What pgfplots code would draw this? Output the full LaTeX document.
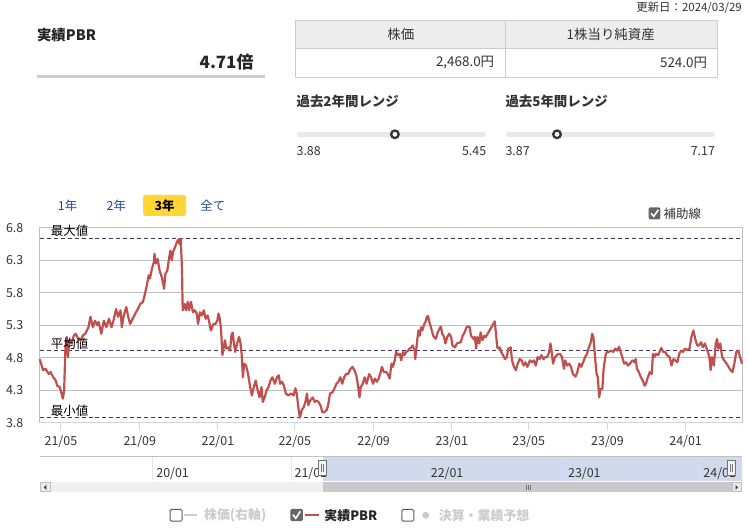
\documentclass[border=0pt]{standalone}
\usepackage{fontspec}
\setmainfont{Noto Sans CJK JP}
\usepackage{pgfplots}
\usepackage{pgfplotstable}
\pgfplotsset{compat=1.18}
\definecolor{pbr}{RGB}{192,80,77}
\definecolor{dashc}{RGB}{72,52,100}
\definecolor{gridc}{RGB}{192,192,192}
\definecolor{tickc}{RGB}{204,214,235}
\definecolor{tabblue}{RGB}{30,70,160}
\definecolor{tabyel}{RGB}{255,214,51}
\definecolor{txt}{RGB}{51,51,51}
\definecolor{lgray}{RGB}{204,204,204}
\definecolor{navmask}{RGB}{209,218,237}
\newcommand{\fs}[1]{\fontsize{#1}{#1}\selectfont}

\pgfplotstableread{
d v
0 4.78
5 4.61
9 4.63
14 4.55
17 4.58
21 4.50
25 4.45
27 4.37
31 4.35
34 4.25
36 4.17
38 4.30
40 4.96
42 5.12
44 4.81
46 5.07
50 5.02
53 5.14
56 5.17
60 5.09
64 5.07
67 5.14
71 5.17
76 5.27
79 5.43
83 5.27
86 5.37
90 5.30
92 5.35
96 5.17
100 5.37
104 5.27
108 5.40
112 5.27
115 5.37
119 5.55
122 5.43
126 5.53
128 5.27
131 5.45
135 5.58
138 5.43
141 5.32
145 5.40
149 5.48
153 5.55
157 5.63
161 5.66
164 5.78
167 5.91
170 6.07
172 6.02
175 6.17
178 6.27
179 6.40
181 6.25
184 6.32
187 6.14
191 6.02
194 5.86
196 6.09
199 6.14
202 6.35
204 6.45
206 6.30
208 6.43
211 6.50
214 6.58
216 6.62
218 6.55
220 6.63
222 6.14
223 5.53
226 5.63
228 5.53
231 5.66
233 5.53
236 5.66
239 5.50
242 5.53
245 5.48
247 5.32
250 5.50
253 5.45
256 5.53
259 5.40
262 5.45
264 5.37
267 5.22
271 5.32
274 5.32
277 5.37
279 5.48
281 5.40
283 5.22
285 4.84
287 4.96
289 5.07
291 4.94
294 4.96
297 4.91
299 5.14
301 5.19
303 5.02
305 4.89
308 5.02
311 5.12
313 5.04
315 4.86
317 4.50
319 4.71
322 4.68
325 4.55
328 4.37
331 4.22
334 4.35
337 4.45
340 4.30
343 4.19
346 4.35
348 4.12
351 4.19
354 4.30
357 4.35
360 4.45
363 4.50
367 4.40
370 4.50
373 4.53
375 4.40
378 4.43
381 4.37
384 4.25
388 4.22
392 4.25
396 4.22
399 4.33
401 4.25
404 4.00
406 3.88
409 4.00
412 4.04
415 4.14
417 4.25
419 4.07
422 4.14
426 4.19
429 4.12
432 4.14
435 4.12
438 4.07
441 3.96
444 3.96
448 4.00
450 4.07
453 4.25
457 4.27
460 4.33
463 4.40
466 4.43
469 4.50
472 4.40
475 4.50
478 4.55
481 4.55
485 4.63
488 4.66
491 4.61
494 4.53
497 4.35
499 4.19
501 4.35
504 4.40
507 4.50
510 4.40
514 4.55
517 4.50
520 4.40
523 4.48
526 4.43
529 4.48
532 4.58
534 4.66
537 4.58
541 4.58
544 4.53
546 4.48
549 4.71
551 4.66
554 4.76
556 4.89
559 4.84
562 4.86
564 4.76
567 4.89
569 4.84
572 4.89
575 4.91
577 4.94
580 4.96
582 4.99
585 4.91
586 4.78
589 5.07
591 5.22
593 5.14
595 5.27
597 5.22
600 5.32
602 5.35
604 5.43
606 5.44
608 5.35
611 5.25
614 5.14
618 5.09
621 5.19
624 5.25
626 5.28
628 5.17
631 5.12
633 5.02
636 5.12
639 5.17
642 5.12
644 4.99
648 4.96
651 5.02
654 5.03
657 5.04
660 5.14
663 5.19
666 5.27
669 5.28
671 5.27
673 5.14
677 5.09
679 5.12
681 4.94
683 5.12
686 5.02
688 5.19
691 5.07
694 5.14
696 5.12
699 5.17
702 5.22
706 5.29
710 5.36
712 5.17
714 4.96
716 4.94
718 4.96
720 4.89
723 4.84
726 4.78
729 4.81
731 4.94
735 4.96
737 4.76
740 4.66
743 4.61
746 4.71
749 4.78
752 4.76
755 4.68
758 4.73
761 4.66
765 4.76
768 4.73
771 4.76
774 4.68
777 4.81
780 4.78
783 4.84
786 4.78
789 4.81
792 4.81
795 4.89
797 5.02
799 4.89
801 4.71
804 4.81
807 4.84
810 4.86
812 4.86
815 4.81
818 4.63
820 4.76
823 4.68
826 4.71
829 4.66
832 4.55
836 4.51
839 4.58
842 4.71
845 4.66
848 4.73
851 4.81
854 4.86
857 4.96
860 5.04
862 5.17
864 5.12
867 4.76
869 4.55
871 4.50
873 4.19
875 4.32
878 4.32
880 4.63
883 4.84
885 4.89
888 4.89
891 4.91
895 4.89
898 4.94
901 4.91
904 4.97
906 4.91
909 4.81
912 4.71
915 4.73
918 4.68
921 4.71
925 4.76
928 4.73
930 4.78
932 4.63
935 4.58
938 4.50
941 4.45
944 4.37
946 4.40
949 4.50
952 4.58
955 4.55
957 4.86
959 4.81
962 4.86
965 4.84
968 4.91
970 4.95
973 4.89
976 4.89
979 4.84
983 4.81
986 4.68
989 4.78
992 4.76
995 4.73
998 4.86
1001 4.91
1004 4.89
1007 4.94
1010 4.92
1014 4.94
1017 5.12
1020 5.22
1023 5.09
1026 4.99
1029 4.99
1032 5.04
1035 4.96
1038 5.02
1042 4.91
1045 4.81
1047 4.61
1049 4.81
1052 4.68
1055 5.02
1057 5.09
1059 4.94
1062 5.02
1065 4.81
1068 4.76
1072 4.71
1075 4.66
1078 4.61
1081 4.58
1084 4.71
1087 4.89
1090 4.91
1093 4.81
1096 4.71
}\pbrdata

\begin{document}
\begin{tikzpicture}
\begin{scope}[x=1pt,y=-1pt]
\path[use as bounding box] (0,0) rectangle (749,532);
% header
\node[anchor=east,inner sep=0,text=txt,font=\fs{11.5}] at (746,8) {更新日：2024/03/29};
\node[anchor=west,inner sep=0,text=black!85,font=\fs{14.5}\bfseries] at (37,35) {実績PBR};
\node[anchor=east,inner sep=0,text=black!85,font=\fs{17}\bfseries] at (255,62) {4.71倍};
\draw[lgray,line width=2.5pt] (37,77) -- (266,77);
\fill[black!7] (297,21) rectangle (721,49);
\draw[lgray,line width=1pt] (297,21) rectangle (721,78);
\draw[lgray,line width=1pt] (297,49) -- (721,49);
\draw[lgray,line width=1pt] (508,21) -- (508,78);
\node[inner sep=0,text=txt,font=\fs{13.5}] at (403,35) {株価};
\node[inner sep=0,text=txt,font=\fs{13.5}] at (614,35) {1株当り純資産};
\node[anchor=east,inner sep=0,text=txt,font=\fs{13.5}] at (497,63) {2,468.0円};
\node[anchor=east,inner sep=0,text=txt,font=\fs{13.5}] at (711,63) {524.0円};
\node[anchor=west,inner sep=0,text=txt,font=\fs{13.5}\bfseries] at (298,102) {過去2年間レンジ};
\node[anchor=west,inner sep=0,text=txt,font=\fs{13.5}\bfseries] at (508,102) {過去5年間レンジ};
\draw[black!9,line width=5pt,line cap=round] (301,135) -- (486,135);
\draw[black!9,line width=5pt,line cap=round] (511,135) -- (716,135);
\draw[txt,fill=white,line width=2.3pt] (397,135) circle (3.8);
\draw[txt,fill=white,line width=2.3pt] (560,135) circle (3.8);
\node[anchor=west,inner sep=0,text=txt,font=\fs{12.5}] at (298,152) {3.88};
\node[anchor=east,inner sep=0,text=txt,font=\fs{12.5}] at (489,152) {5.45};
\node[anchor=west,inner sep=0,text=txt,font=\fs{12.5}] at (508,152) {3.87};
\node[anchor=east,inner sep=0,text=txt,font=\fs{12.5}] at (719,152) {7.17};
% tabs
\node[inner sep=0,text=tabblue,font=\fs{12.5}] at (68,207) {1年};
\node[inner sep=0,text=tabblue,font=\fs{12.5}] at (117,207) {2年};
\fill[tabyel,rounded corners=2pt] (144,196) rectangle (187,217);
\node[inner sep=0,text=black,font=\fs{12.5}\bfseries] at (165.5,207) {3年};
\node[inner sep=0,text=tabblue,font=\fs{12.5}] at (214,207) {全て};
% 補助線 checkbox
\fill[black!60,rounded corners=1.5pt] (652,208.5) rectangle (664,220.5);
\draw[white,line width=1.6pt] (654.5,214.5) -- (657.2,217.5) -- (661.8,211);
\node[anchor=west,inner sep=0,text=txt,font=\fs{12.5}] at (667,214.5) {補助線};
\end{scope}

\begin{axis}[
  at={(40pt,-425pt)}, anchor=south west,
  width=706pt, height=196pt, scale only axis,
  xmin=0, xmax=1096, ymin=3.8, ymax=6.8,
  axis line style={gridc,line width=0.9pt},
  ytick={3.8,4.3,4.8,5.3,5.8,6.3,6.8},
  yticklabels={3.8,4.3,4.8,5.3,5.8,6.3,6.8},
  ytick style={draw=none},
  ymajorgrids, grid style={gridc,line width=0.9pt},
  yticklabel style={font=\fs{12.5},text=txt,xshift=-6pt},
  xtick={33,156,278,398,521,643,763,886,1008},
  xticklabels={21/05,21/09,22/01,22/05,22/09,23/01,23/05,23/09,24/01},
  xtick pos=bottom, tick align=outside, major tick length=7pt,
  xtick style={draw=tickc,line width=1pt},
  xticklabel style={font=\fs{12.5},text=txt,yshift=-2pt},
  clip=false,
]
\addplot[dashc,line width=1.1pt,dash pattern=on 4pt off 3pt] coordinates {(0,6.63) (1096,6.63)};
\addplot[dashc,line width=1.1pt,dash pattern=on 4pt off 3pt] coordinates {(0,4.91) (1096,4.91)};
\addplot[dashc,line width=1.1pt,dash pattern=on 4pt off 3pt] coordinates {(0,3.88) (1096,3.88)};
\addplot[pbr,line width=2.2pt,line join=round,no marks] table[x=d,y=v] {\pbrdata};
\draw[tickc,line width=1pt] (rel axis cs:0,0) -- (rel axis cs:1,0);
\end{axis}

\begin{scope}[x=1pt,y=-1pt]
\node[anchor=west,inner sep=0,text=black,font=\fs{12.5}] at (51,232.5) {最大値};
\node[anchor=west,inner sep=0,text=black,font=\fs{12.5}] at (51,345.5) {平均値};
\node[anchor=west,inner sep=0,text=black,font=\fs{12.5}] at (51,412.5) {最小値};
% navigator
\fill[navmask] (325,459.5) rectangle (746,484);
\draw[black!10,line width=1pt] (153.5,459) -- (153.5,484);
\draw[black!10,line width=1pt] (292.7,459) -- (292.7,484);
\draw[white!85!blue,line width=1pt] (430,459) -- (430,484);
\draw[white!85!blue,line width=1pt] (568,459) -- (568,484);
\draw[white!85!blue,line width=1pt] (703,459) -- (703,484);
\draw[gridc,line width=1pt] (40,459) -- (746,459);
\node[anchor=west,inner sep=0,text=txt,font=\fs{12.5}] at (157,476) {20/01};
\node[anchor=west,inner sep=0,text=txt,font=\fs{12.5}] at (296,476) {21/01};
\node[anchor=west,inner sep=0,text=txt,font=\fs{12.5}] at (433,476) {22/01};
\node[anchor=west,inner sep=0,text=txt,font=\fs{12.5}] at (571,476) {23/01};
\node[anchor=west,inner sep=0,text=txt,font=\fs{12.5}] at (707,476) {24/01};
% handles
\foreach \hx in {320.5,731.5}{
  \draw[black!55,fill=black!5,line width=0.8pt] (\hx,463) rectangle (\hx+8,478);
  \draw[black!55,line width=0.7pt] (\hx+3,466.5) -- (\hx+3,474.5);
  \draw[black!55,line width=0.7pt] (\hx+5,466.5) -- (\hx+5,474.5);
}
% scrollbar
\fill[black!6] (40,484.5) rectangle (746,494.5);
\fill[black!21] (325,484.5) rectangle (736,494.5);
\draw[black!25,fill=black!8,line width=0.6pt] (40.3,484.8) rectangle (50.7,494.2);
\draw[black!25,fill=black!8,line width=0.6pt] (736,484.8) rectangle (745.7,494.2);
\fill[black!75] (46.5,487.5) -- (46.5,492.5) -- (44,490) -- cycle;
\fill[black!75] (739.5,487.5) -- (739.5,492.5) -- (742,490) -- cycle;
\foreach \gx in {529.5,531.5,533.5}{\draw[black!55,line width=0.7pt] (\gx,487.5) -- (\gx,492.5);}
% legend
\draw[black!65,fill=white,rounded corners=1.5pt,line width=1pt] (171,512) rectangle (183,524);
\draw[lgray,line width=2.5pt] (185,518) -- (198,518);
\node[anchor=west,inner sep=0,text=lgray,font=\fs{13}\bfseries] at (205,518) {株価(右軸)};
\fill[black!60,rounded corners=1.5pt] (292,511.5) rectangle (304.5,524);
\draw[white,line width=1.6pt] (294.5,517.5) -- (297.4,521) -- (302,514);
\draw[pbr,line width=2.5pt] (307,518) -- (321,518);
\node[anchor=west,inner sep=0,text=black!85,font=\fs{13}\bfseries] at (326,518) {実績PBR};
\draw[black!65,fill=white,rounded corners=1.5pt,line width=1pt] (404,512) rectangle (416,524);
\fill[lgray] (428,518) circle (3.5);
\node[anchor=west,inner sep=0,text=lgray,font=\fs{13}\bfseries] at (441,518) {決算・業績予想};
\end{scope}
\end{tikzpicture}
\end{document}
